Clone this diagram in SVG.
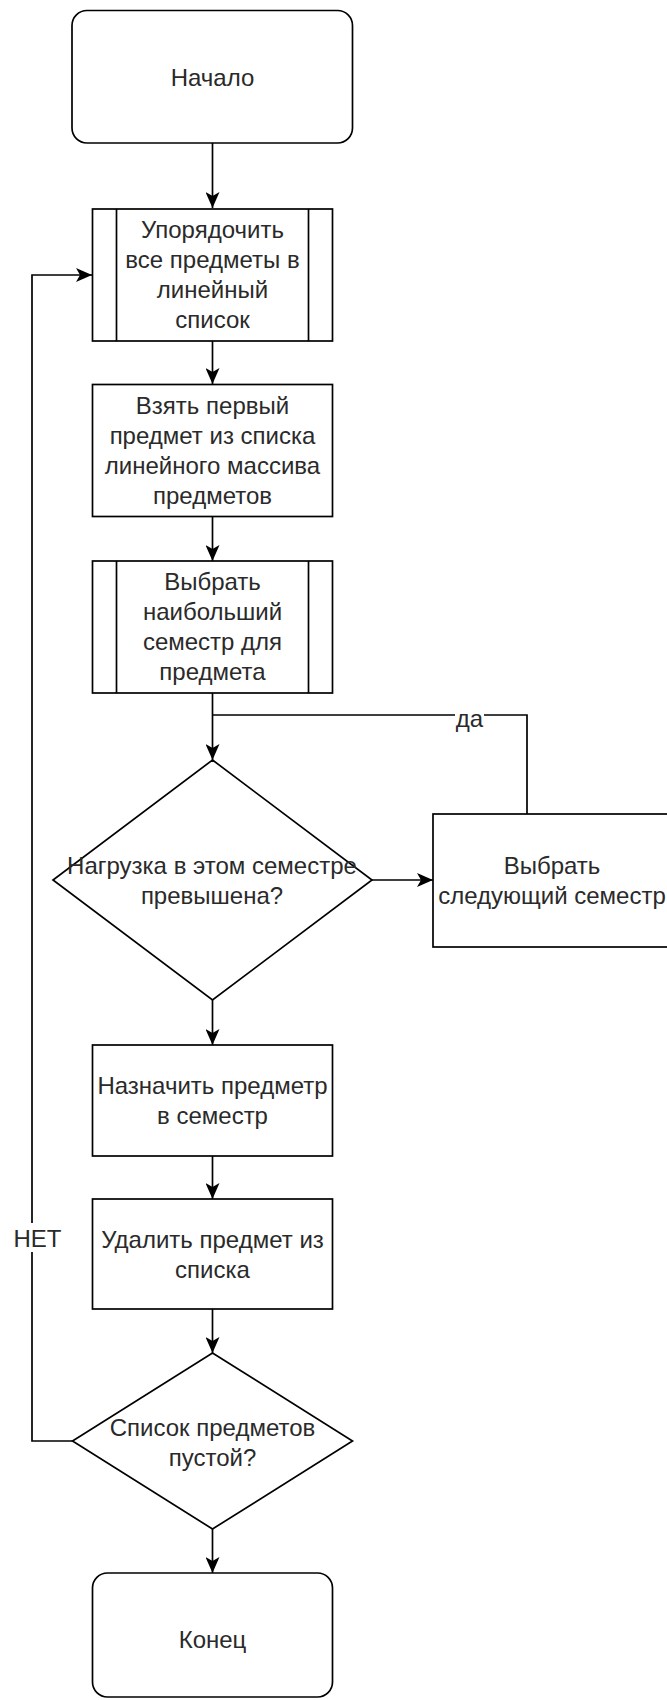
<svg xmlns="http://www.w3.org/2000/svg" width="667" height="1700" viewBox="0 0 667 1700">
  <style>
    .shape { fill: #ffffff; stroke: #000000; stroke-width: 1.7; }
    .edge { fill: none; stroke: #000000; stroke-width: 1.7; }
    .t { font-family: "Liberation Sans", Arial, sans-serif; font-size: 24px; fill: #2a2a2a; text-anchor: middle; }
    .lblbg { fill: #ffffff; stroke: none; }
  </style>
  <defs>
    <marker id="arrow" markerUnits="userSpaceOnUse" markerWidth="16" markerHeight="14" viewBox="0 0 16 14" refX="16" refY="7" orient="auto">
      <path d="M0,0 L16,7 L0,14 L4,7 Z" fill="#000000"/>
    </marker>
  </defs>
  <rect width="667" height="1700" fill="#ffffff"/>

  <g id="connectors">
    <path class="edge" d="M212.5,143 V208" marker-end="url(#arrow)"/>
    <path class="edge" d="M212.5,341 V384" marker-end="url(#arrow)"/>
    <path class="edge" d="M212.5,517 V561" marker-end="url(#arrow)"/>
    <path class="edge" d="M212.5,693 V760" marker-end="url(#arrow)"/>
    <path class="edge" d="M527,814 V715 H212.5"/>
    <path class="edge" d="M372,880 H433" marker-end="url(#arrow)"/>
    <path class="edge" d="M212.5,1000 V1045" marker-end="url(#arrow)"/>
    <path class="edge" d="M212.5,1156 V1199" marker-end="url(#arrow)"/>
    <path class="edge" d="M212.5,1309 V1353" marker-end="url(#arrow)"/>
    <path class="edge" d="M212.5,1529 V1573" marker-end="url(#arrow)"/>
    <path class="edge" d="M72.5,1441 H32 V275 H92" marker-end="url(#arrow)"/>
    <g id="label-da">
      <rect class="lblbg" x="455" y="710" width="29" height="24"/>
      <text class="t" x="469.5" y="727">да</text>
    </g>
    <g id="label-net">
      <rect class="lblbg" x="12" y="1223" width="51" height="29"/>
      <text class="t" x="37.5" y="1247">НЕТ</text>
    </g>
  </g>

  <g id="start">
    <rect class="shape" x="72" y="10.5" width="280.5" height="132.5" rx="15" ry="15"/>
    <text class="t" x="212.5" y="86">Начало</text>
  </g>

  <g id="sort-subjects">
    <rect class="shape" x="92.5" y="209" width="240" height="132"/>
    <line class="shape" x1="116.5" y1="209" x2="116.5" y2="341"/>
    <line class="shape" x1="308.5" y1="209" x2="308.5" y2="341"/>
    <text class="t" x="212.5" y="238">Упорядочить</text>
    <text class="t" x="212.5" y="268">все предметы в</text>
    <text class="t" x="212.5" y="298">линейный</text>
    <text class="t" x="212.5" y="328">список</text>
  </g>

  <g id="take-first">
    <rect class="shape" x="92.5" y="384.5" width="240" height="132"/>
    <text class="t" x="212.5" y="414">Взять первый</text>
    <text class="t" x="212.5" y="444">предмет из списка</text>
    <text class="t" x="212.5" y="474">линейного массива</text>
    <text class="t" x="212.5" y="504">предметов</text>
  </g>

  <g id="choose-max-semester">
    <rect class="shape" x="92.5" y="561" width="240" height="132"/>
    <line class="shape" x1="116.5" y1="561" x2="116.5" y2="693"/>
    <line class="shape" x1="308.5" y1="561" x2="308.5" y2="693"/>
    <text class="t" x="212.5" y="590">Выбрать</text>
    <text class="t" x="212.5" y="620">наибольший</text>
    <text class="t" x="212.5" y="650">семестр для</text>
    <text class="t" x="212.5" y="680">предмета</text>
  </g>

  <g id="load-exceeded">
    <polygon class="shape" points="212.5,760 372,880 212.5,1000 53,880"/>
    <text class="t" x="212" y="874">Нагрузка в этом семестре</text>
    <text class="t" x="212" y="904">превышена?</text>
  </g>

  <g id="next-semester">
    <rect class="shape" x="433" y="814" width="240" height="133"/>
    <text class="t" x="552" y="874">Выбрать</text>
    <text class="t" x="552" y="904">следующий семестр</text>
  </g>

  <g id="assign">
    <rect class="shape" x="92.5" y="1045" width="240" height="111"/>
    <text class="t" x="212.5" y="1094">Назначить предметр</text>
    <text class="t" x="212.5" y="1124">в семестр</text>
  </g>

  <g id="remove">
    <rect class="shape" x="92.5" y="1199" width="240" height="110"/>
    <text class="t" x="212.5" y="1248">Удалить предмет из</text>
    <text class="t" x="212.5" y="1278">списка</text>
  </g>

  <g id="list-empty">
    <polygon class="shape" points="212.5,1353 352.5,1441 212.5,1529 72.5,1441"/>
    <text class="t" x="212.5" y="1436">Список предметов</text>
    <text class="t" x="212.5" y="1466">пустой?</text>
  </g>

  <g id="end">
    <rect class="shape" x="92.5" y="1573" width="240" height="124" rx="15" ry="15"/>
    <text class="t" x="212.5" y="1648">Конец</text>
  </g>
</svg>
